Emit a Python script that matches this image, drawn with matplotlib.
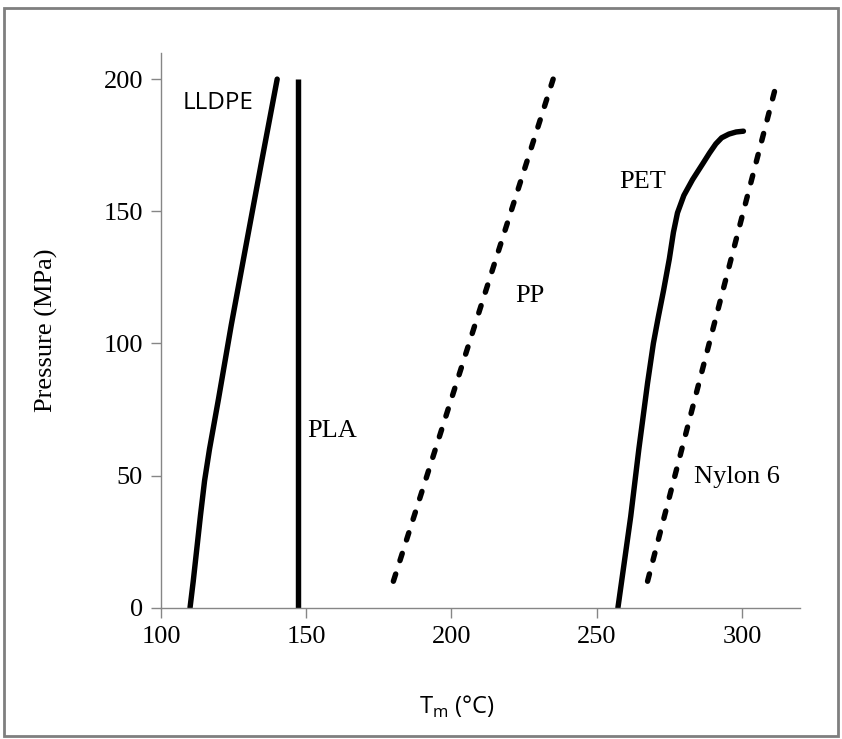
import numpy as np
import matplotlib.pyplot as plt
from matplotlib.patches import Rectangle

# melting temperature vs pressure curves
lldpe_t = [110, 111.1, 112.3, 113.6, 115, 116.7, 119.8, 124.2, 129, 134.5, 140]
lldpe_p = [0, 10, 22, 35, 48, 60, 79, 107, 135.5, 168, 200]

pla_t = [147, 147]
pla_p = [0, 200]

pp_t = [180, 235]
pp_p = [10, 200]

pet_t = [257.3, 261.7, 264.5, 267.5, 269.5, 271.2, 273, 275, 276.4, 277.8,
         280, 283, 286.5, 288.8, 291, 293, 295.5, 298, 300.5]
pet_p = [0, 34.5, 60, 85, 100, 110, 120, 132, 142, 149.4,
         156, 162, 168, 172, 175.5, 177.8, 179.2, 180, 180.3]

nylon_t = [267.5, 312.3]
nylon_p = [10, 200]

xticks = [100, 150, 200, 250, 300]
yticks = [0, 50, 100, 150, 200]

serif = 'Liberation Serif'
sans = 'Open Sans'

fig = plt.figure(figsize=(8.42, 7.39), dpi=100)
ax = fig.add_axes([0.1912, 0.1777, 0.759, 0.751])

lw = 3.9
ax.plot(lldpe_t, lldpe_p, color='black', lw=lw, solid_capstyle='round', solid_joinstyle='round')
ax.plot(pla_t, pla_p, color='black', lw=lw, solid_capstyle='butt')
ax.plot(pet_t, pet_p, color='black', lw=lw, solid_capstyle='round', solid_joinstyle='round')
ax.plot(pp_t, pp_p, color='black', lw=lw, dash_capstyle='round', linestyle=(0, (1.4, 2.6)))
ax.plot(nylon_t, nylon_p, color='black', lw=lw, dash_capstyle='round', linestyle=(0, (1.4, 2.6)))

ax.text(107.6, 191, 'LLDPE', family=sans, fontsize=17.5, va='center', ha='left')
ax.text(150.3, 67, 'PLA', family=serif, fontsize=19, va='center', ha='left')
ax.text(222, 118, 'PP', family=serif, fontsize=19, va='center', ha='left')
ax.text(257.7, 161, 'PET', family=serif, fontsize=19, va='center', ha='left')
ax.text(283.6, 49.6, 'Nylon 6', family=serif, fontsize=19, va='center', ha='left')

ax.set_xlim(100, 320)
ax.set_ylim(0, 210)
ax.set_xticks(xticks)
ax.set_yticks(yticks)
for lab in ax.get_xticklabels() + ax.get_yticklabels():
    lab.set_family(serif)
    lab.set_fontsize(19)

for s in ['top', 'right']:
    ax.spines[s].set_visible(False)
for s in ['left', 'bottom']:
    ax.spines[s].set_color('#868686')
    ax.spines[s].set_linewidth(1.0)
ax.tick_params(direction='out', length=7, width=1.0, color='#868686', pad=6)

ax.set_ylabel('Pressure (MPa)', family=serif, fontsize=19)
ax.set_xlabel('T$_\\mathregular{m}$ (°C)', family=sans, fontsize=17)
ax.yaxis.set_label_coords(-0.161, 0.5)
ax.xaxis.set_label_coords(0.463, -0.155)

# grey frame around the figure
fig.patches.append(Rectangle((4 / 842, 3 / 739), 834 / 842, 728 / 739,
                             transform=fig.transFigure, fill=False,
                             edgecolor='#7f7f7f', lw=2))

fig.savefig('out.png', dpi=100)
